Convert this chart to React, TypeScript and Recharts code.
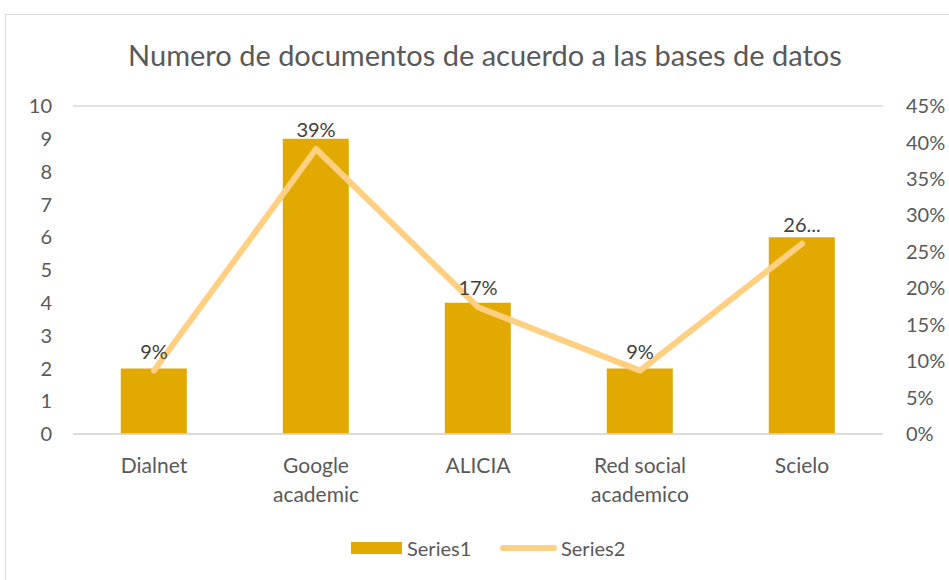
import { ComposedChart, Bar, Line, XAxis, YAxis, CartesianGrid, LabelList } from 'recharts'

const categories = ['Dialnet', 'Google academic', 'ALICIA', 'Red social academico', 'Scielo']
const series1 = [2, 9, 4, 2, 6]
const series2 = [0.087, 0.391, 0.174, 0.087, 0.261]
const lineLabels = ['9%', '39%', '17%', '9%', '26...']
const leftTicks = [0, 1, 2, 3, 4, 5, 6, 7, 8, 9, 10]
const rightTicks = [0, 0.05, 0.1, 0.15, 0.2, 0.25, 0.3, 0.35, 0.4, 0.45]

const data = categories.map((name, i) => ({ name, s1: series1[i], s2: series2[i], label: lineLabels[i] }))

const FONT = 'Lato, "Open Sans", sans-serif'
const BAR = '#E2AA00'
const LINE = '#FFCF82'
const TEXT = '#595959'

function wrap(label: string, max = 11) {
  const lines: string[] = []
  let cur = ''
  for (const w of label.split(' ')) {
    if (cur && (cur + ' ' + w).length > max) { lines.push(cur); cur = w }
    else cur = cur ? cur + ' ' + w : w
  }
  if (cur) lines.push(cur)
  return lines
}

function CatTick({ x, y, payload }: any) {
  const lines = wrap(payload.value)
  return (
    <text x={x} y={y + 39} textAnchor="middle" fill={TEXT} fontSize={21} fontFamily={FONT}>
      {lines.map((l, i) => <tspan key={i} x={x} dy={i === 0 ? 0 : 29}>{l}</tspan>)}
    </text>
  )
}

function LegendBox() {
  const txt = { position: 'absolute' as const, top: 535, fontFamily: FONT, fontSize: 20, color: TEXT, lineHeight: '26px' }
  return (
    <>
      <div style={{ position: 'absolute', left: 351, top: 542, width: 51, height: 12, background: BAR }} />
      <div style={{ ...txt, left: 407 }}>Series1</div>
      <div style={{ position: 'absolute', left: 500, top: 545, width: 57, height: 6, background: LINE, borderRadius: 3 }} />
      <div style={{ ...txt, left: 561 }}>Series2</div>
    </>
  )
}

export default function App() {
  return (
    <div style={{ position: 'fixed', left: 0, top: 0, width: 949, height: 580, background: '#fff', overflow: 'hidden' }}>
      <div style={{ position: 'absolute', left: 5, top: 14, width: 960, height: 600, border: '1.5px solid #d9d9d9', boxSizing: 'border-box' }} />
      <div style={{ position: 'absolute', top: 37, left: 20, width: 930, textAlign: 'center', fontFamily: FONT, fontSize: 29, color: TEXT, lineHeight: '36px' }}>
        Numero de documentos de acuerdo a las bases de datos
      </div>
      <div style={{ position: 'absolute', left: 0, top: 0 }}>
        <ComposedChart width={949} height={580} data={data} margin={{ top: 106, right: 0, bottom: 56, left: 0 }} barCategoryGap="29.5%">
          <CartesianGrid vertical={false} stroke="#d9d9d9" strokeWidth={1.5} />
          <XAxis dataKey="name" tick={<CatTick />} tickLine={false} tickSize={0} tickMargin={0} axisLine={{ stroke: '#d9d9d9', strokeWidth: 1.5 }} interval={0} height={90} />
          <YAxis yAxisId="left" domain={[0, 10]} ticks={leftTicks} interval={0} width={73} axisLine={false} tickLine={false} tickMargin={15} tick={{ fill: TEXT, fontSize: 20, fontFamily: FONT }} />
          <YAxis yAxisId="right" orientation="right" domain={[0, 0.45]} ticks={rightTicks} interval={0} width={66} axisLine={false} tickLine={false} tickMargin={17}
            tickFormatter={(v: number) => `${Math.round(v * 100)}%`} tick={{ fill: TEXT, fontSize: 20, fontFamily: FONT }} />
          <Bar yAxisId="left" dataKey="s1" fill={BAR} isAnimationActive={false} />
          <Line yAxisId="right" dataKey="s2" stroke={LINE} strokeWidth={6} strokeLinecap="round" strokeLinejoin="round" dot={false} isAnimationActive={false}>
            <LabelList dataKey="label" position="top" offset={12} fill="#404040" fontSize={20} fontFamily={FONT} />
          </Line>
        </ComposedChart>
      </div>
      <LegendBox />
    </div>
  )
}
